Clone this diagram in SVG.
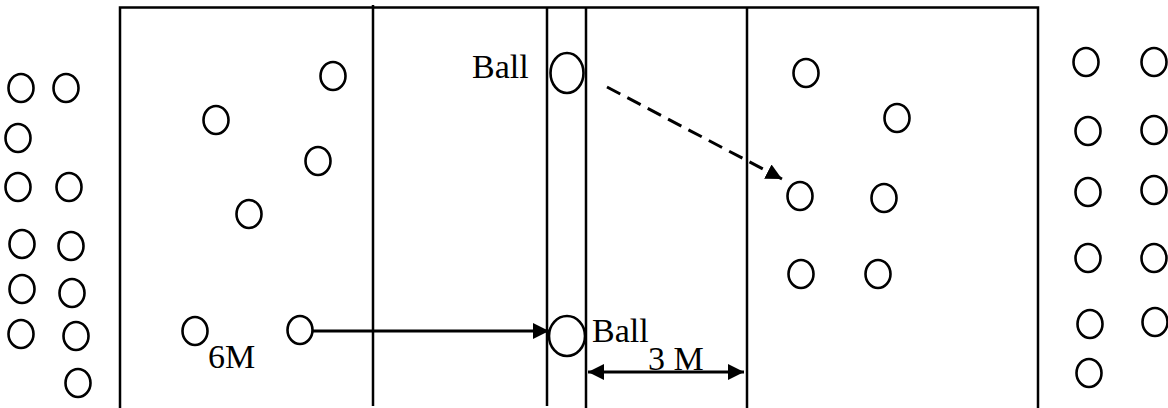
<svg xmlns="http://www.w3.org/2000/svg" width="1168" height="408" viewBox="0 0 1168 408">
<style>
.p{fill:none;stroke:#000;stroke-width:2.6}
.ln{fill:none;stroke:#000;stroke-width:2.5}
.t{font-family:"Liberation Serif",serif;font-size:34px;fill:#000}
.c{fill:none;stroke:#000;stroke-width:3}
</style>
<defs>
<marker id="ah" viewBox="0 0 16 16" refX="16" refY="8" markerWidth="16" markerHeight="16" markerUnits="userSpaceOnUse" orient="auto-start-reverse">
<path d="M0,0 L16,8 L0,16 Z" fill="#000"/>
</marker>
</defs>
<rect width="1168" height="408" fill="#fff"/>
<g id="court">
<path class="ln" d="M120,408 V7.5 H1038 V408"/>
<line class="ln" x1="373" y1="5" x2="373" y2="406"/>
<line class="ln" x1="547" y1="7" x2="547" y2="406"/>
<line class="ln" x1="586" y1="7" x2="586" y2="408"/>
<line class="ln" x1="747" y1="7" x2="747" y2="408"/>
</g>
<g id="left-bench">
<ellipse class="p" cx="21" cy="88" rx="12.5" ry="14"/>
<ellipse class="p" cx="66" cy="88" rx="12.5" ry="14"/>
<ellipse class="p" cx="18" cy="138" rx="12.5" ry="14"/>
<ellipse class="p" cx="18" cy="187" rx="12.5" ry="14"/>
<ellipse class="p" cx="69" cy="187" rx="12.5" ry="14"/>
<ellipse class="p" cx="22" cy="244" rx="12.5" ry="14"/>
<ellipse class="p" cx="71" cy="246" rx="12.5" ry="14"/>
<ellipse class="p" cx="22" cy="289" rx="12.5" ry="14"/>
<ellipse class="p" cx="72" cy="293" rx="12.5" ry="14"/>
<ellipse class="p" cx="21" cy="334" rx="12.5" ry="14"/>
<ellipse class="p" cx="76" cy="336" rx="12.5" ry="14"/>
<ellipse class="p" cx="78" cy="383" rx="12.5" ry="14"/>
</g>
<g id="left-team">
<ellipse class="p" cx="333" cy="76" rx="12.5" ry="14"/>
<ellipse class="p" cx="216" cy="120" rx="12.5" ry="14"/>
<ellipse class="p" cx="318" cy="161" rx="12.5" ry="14"/>
<ellipse class="p" cx="249" cy="214" rx="12.5" ry="14"/>
<ellipse class="p" cx="195" cy="331" rx="12.5" ry="14"/>
<ellipse class="p" cx="300" cy="330" rx="12.5" ry="14"/>
</g>
<g id="ball-top">
<ellipse class="p" cx="567" cy="73" rx="16.5" ry="20"/>
<text class="t" x="472" y="78">Ball</text>
</g>
<g id="ball-bottom">
<ellipse class="p" cx="567" cy="336" rx="18" ry="20"/>
<text class="t" x="592" y="342">Ball</text>
</g>
<g id="right-team">
<ellipse class="p" cx="806" cy="73" rx="12.5" ry="14"/>
<ellipse class="p" cx="897" cy="118" rx="12.5" ry="14"/>
<ellipse class="p" cx="800" cy="196" rx="12.5" ry="14"/>
<ellipse class="p" cx="884" cy="198" rx="12.5" ry="14"/>
<ellipse class="p" cx="801" cy="274" rx="12.5" ry="14"/>
<ellipse class="p" cx="878" cy="274" rx="12.5" ry="14"/>
</g>
<g id="right-bench">
<ellipse class="p" cx="1086" cy="62" rx="12.5" ry="14"/>
<ellipse class="p" cx="1154" cy="62" rx="12.5" ry="14"/>
<ellipse class="p" cx="1088" cy="131" rx="12.5" ry="14"/>
<ellipse class="p" cx="1154" cy="130" rx="12.5" ry="14"/>
<ellipse class="p" cx="1088" cy="192" rx="12.5" ry="14"/>
<ellipse class="p" cx="1154" cy="190" rx="12.5" ry="14"/>
<ellipse class="p" cx="1088" cy="258" rx="12.5" ry="14"/>
<ellipse class="p" cx="1154" cy="258" rx="12.5" ry="14"/>
<ellipse class="p" cx="1090" cy="324" rx="12.5" ry="14"/>
<ellipse class="p" cx="1155" cy="322" rx="12.5" ry="14"/>
<ellipse class="p" cx="1089" cy="373" rx="12.5" ry="14"/>
</g>
<g id="labels">
<text class="t" x="208" y="368">6M</text>
<text class="t" x="648" y="370">3 M</text>
</g>
<g id="connectors">
<line class="c" x1="312" y1="331" x2="549" y2="331" marker-end="url(#ah)"/>
<line class="c" x1="607" y1="87" x2="782" y2="179" stroke-dasharray="15 8" marker-end="url(#ah)"/>
<line class="c" x1="588" y1="372" x2="744" y2="372" marker-start="url(#ah)" marker-end="url(#ah)"/>
</g>
</svg>
